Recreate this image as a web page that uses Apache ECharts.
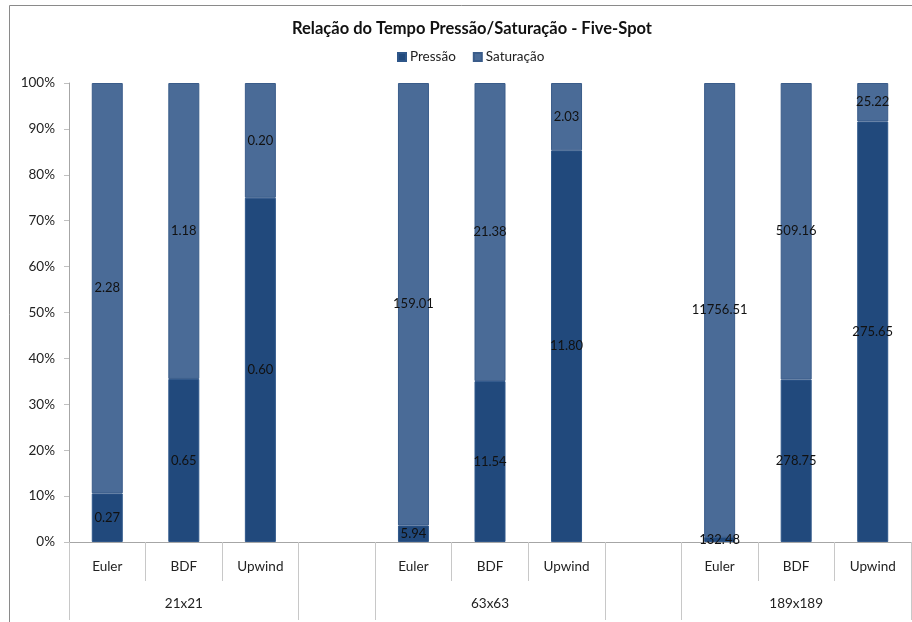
<!DOCTYPE html>
<html>
<head>
<meta charset="utf-8">
<script src="https://cdn.jsdelivr.net/npm/echarts@6/dist/echarts.min.js"></script>
<style>
html,body{margin:0;padding:0;background:#fff;}
#chart{width:912px;height:622px;}
</style>
</head>
<body>
<div id="chart"></div>
<script>
// ---- data ----
const categories = ['Euler','BDF','Upwind','','Euler','BDF','Upwind','','Euler','BDF','Upwind'];
const groupLabels = ['','21x21','','','','63x63','','','','189x189',''];
const groupBoundaryIdx = [0,3,4,7,8];
const pressao   = [0.27, 0.65, 0.60, null, 5.94, 11.54, 11.80, null, 132.48, 278.75, 275.65];
const saturacao = [2.28, 1.18, 0.20, null, 159.01, 21.38, 2.03, null, 11756.51, 509.16, 25.22];
const yTicks = [0,10,20,30,40,50,60,70,80,90,100];

function pct(a, b) {
  return a.map((v, i) => (v == null ? null : v / (v + b[i]) * 100));
}
const pressaoPct = pct(pressao, saturacao);
const saturacaoPct = pct(saturacao, pressao);

const FONT = 'Lato';
const chart = echarts.init(document.getElementById('chart'), null, {renderer: 'canvas'});

function labelFor(raw) {
  return {
    show: true,
    position: 'inside',
    color: '#111',
    fontFamily: FONT,
    fontSize: 13,
    formatter: p => raw[p.dataIndex] == null ? '' : raw[p.dataIndex].toFixed(2)
  };
}

chart.setOption({
  animation: false,
  backgroundColor: '#fff',
  textStyle: {fontFamily: FONT},
  graphic: [{
    type: 'rect',
    shape: {x: 9.5, y: 5.5, width: 1000, height: 1000},
    style: {fill: 'none', stroke: '#8a8a8a', lineWidth: 1},
    silent: true, z: -10
  }],
  title: {
    text: 'Relação do Tempo Pressão/Saturação - Five-Spot',
    left: 467, top: 15, textAlign: 'center',
    textStyle: {fontFamily: FONT, fontWeight: 'bold', fontSize: 16.5, color: '#111'}
  },
  legend: {
    top: 45, left: 392,
    itemWidth: 8, itemHeight: 8, itemGap: 17,
    icon: 'rect',
    textStyle: {fontFamily: FONT, fontSize: 13.5, color: '#222', padding: [0,0,0,-1]},
    data: ['Pressão', 'Saturação']
  },
  grid: {left: 69, right: 1, top: 83, bottom: 80, containLabel: false},
  xAxis: [{
    type: 'category',
    data: categories,
    position: 'bottom',
    axisLine: {show: true, lineStyle: {color: '#a6a6a6'}},
    axisTick: {show: true, interval: 0, length: 39, lineStyle: {color: '#c8c8c8'}},
    axisLabel: {interval: 0, margin: 18, fontFamily: FONT, fontSize: 13.5, color: '#222'},
    splitLine: {show: false}
  }, {
    type: 'category',
    data: groupLabels,
    position: 'bottom',
    axisLine: {show: false},
    axisTick: {
      show: true, length: 78,
      interval: (idx) => groupBoundaryIdx.indexOf(idx) >= 0,
      lineStyle: {color: '#c8c8c8'}
    },
    axisLabel: {interval: 0, margin: 55, fontFamily: FONT, fontSize: 13.5, color: '#222'},
    splitLine: {show: false}
  }],
  yAxis: {
    type: 'value',
    min: 0, max: 100, interval: 10,
    axisLine: {show: true, lineStyle: {color: '#a6a6a6'}},
    axisTick: {show: true, length: 5, lineStyle: {color: '#c0c0c0'}},
    axisLabel: {
      margin: 14, fontFamily: FONT, fontSize: 13.5, color: '#222',
      formatter: v => yTicks.indexOf(v) >= 0 ? v + '%' : ''
    },
    splitLine: {show: false}
  },
  series: [{
    name: 'Pressão',
    type: 'bar',
    stack: 'total',
    barWidth: 31,
    data: pressaoPct,
    itemStyle: {color: '#21497c', borderColor: '#2e5689', borderWidth: 1},
    label: labelFor(pressao)
  }, {
    name: 'Saturação',
    type: 'bar',
    stack: 'total',
    barWidth: 31,
    data: saturacaoPct,
    itemStyle: {color: '#4a6b97', borderColor: '#3a5c8a', borderWidth: 1},
    label: labelFor(saturacao)
  }]
});
</script>
</body>
</html>
